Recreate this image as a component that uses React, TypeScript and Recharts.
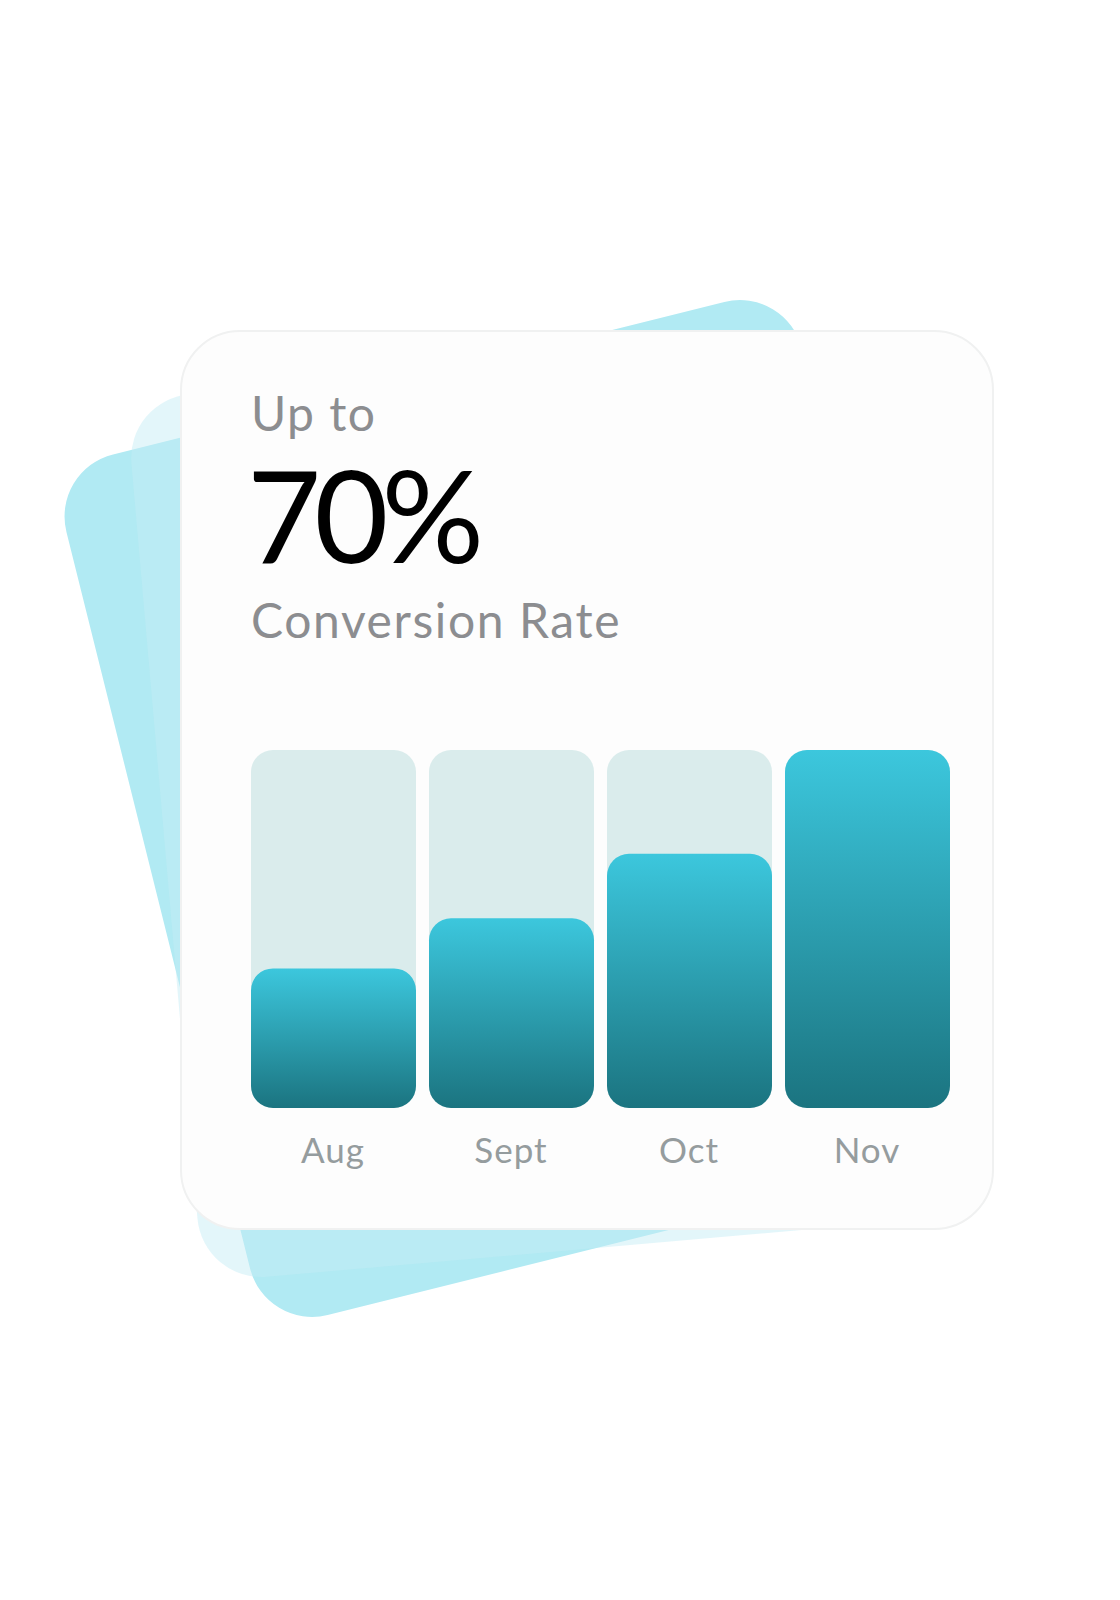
import { BarChart, Bar, XAxis, YAxis } from 'recharts';

// conversion rate per month (share of the tallest month)
const months = ['Aug', 'Sept', 'Oct', 'Nov'];
const rates = [39, 53, 71, 100];

const headline = '70%';
const kicker = 'Up to';
const caption = 'Conversion Rate';

const chartData = months.map((month, i) => ({ month, rate: rates[i] }));

const FONT = 'Lato, "Open Sans", sans-serif';

const App = () => {
  return (
    <div style={{ position: 'absolute', left: 0, top: 0, width: 1120, height: 1600, background: '#ffffff', overflow: 'hidden', fontFamily: FONT }}>
      {/* back sheet, tilted more */}
      <div
        style={{
          position: 'absolute',
          left: 525.5 - 379,
          top: 808 - 443.5,
          width: 758,
          height: 887,
          borderRadius: 64,
          background: '#b1eaf3',
          transform: 'rotate(-14deg)',
        }}
      />
      {/* middle sheet, translucent */}
      <div
        style={{
          position: 'absolute',
          left: 542 - 379,
          top: 808 - 443,
          width: 758,
          height: 886,
          borderRadius: 64,
          background: 'rgba(196, 236, 245, 0.47)',
          transform: 'rotate(-5deg)',
        }}
      />
      {/* card */}
      <div
        style={{
          position: 'absolute',
          left: 180,
          top: 330,
          width: 814,
          height: 900,
          boxSizing: 'border-box',
          borderRadius: 60,
          border: '2px solid #f0f1f1',
          background: '#fdfdfd',
        }}
      />
      <svg width={1120} height={700} style={{ position: 'absolute', left: 0, top: 0 }}>
        <text x={251} y={431} fontFamily={FONT} fontSize={48} fill="#8c8d90" letterSpacing={1.5}>
          {kicker}
        </text>
        <text x={247} y={563} fontFamily={FONT} fontSize={128} fill="#000000" letterSpacing={-7}>
          {headline}
        </text>
        <text x={251} y={638} fontFamily={FONT} fontSize={48} fill="#8c8d90" letterSpacing={1.6}>
          {caption}
        </text>
      </svg>
      <div style={{ position: 'absolute', left: 244, top: 750 }}>
        <BarChart width={712} height={438} data={chartData} margin={{ top: 0, right: 0, bottom: 0, left: 0 }}>
          <defs>
            <linearGradient id="barGradient" x1="0" y1="0" x2="0" y2="1">
              <stop offset="0%" stopColor="#3cc7dd" />
              <stop offset="100%" stopColor="#1b7480" />
            </linearGradient>
          </defs>
          <XAxis
            dataKey="month"
            height={80}
            axisLine={false}
            tickLine={false}
            tickSize={0}
            tickMargin={30}
            interval={0}
            tick={{ fill: '#959c9e', fontSize: 35, fontFamily: FONT, letterSpacing: 1 }}
          />
          <YAxis hide domain={[0, 100]} />
          <Bar
            dataKey="rate"
            barSize={165}
            radius={22}
            fill="url(#barGradient)"
            background={{ fill: '#daecec', radius: 22 }}
            isAnimationActive={false}
          />
        </BarChart>
      </div>
    </div>
  );
};

export default App;
